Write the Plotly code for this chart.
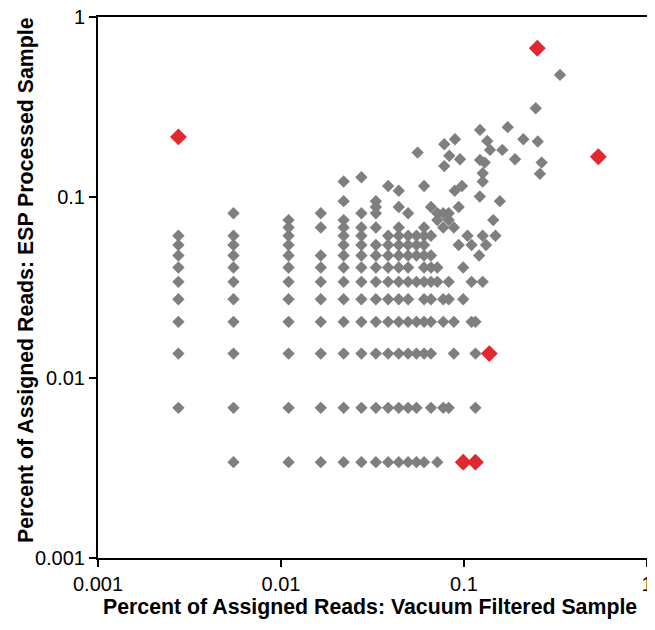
import plotly.graph_objects as go

# ---- data (percent of assigned reads) ----
gray_x = [
    # y = 0.0034
    0.0055, 0.011, 0.0165, 0.022, 0.0275, 0.033, 0.0385, 0.044, 0.0495, 0.055, 0.0605, 0.0715,
    # y = 0.0068
    0.00275, 0.0055, 0.011, 0.0165, 0.022, 0.0275, 0.033, 0.0385, 0.044, 0.0495, 0.055, 0.066, 0.077, 0.0825, 0.1155,
    # y = 0.0136
    0.00275, 0.0055, 0.011, 0.0165, 0.022, 0.0275, 0.033, 0.0385, 0.044, 0.0495, 0.055, 0.0605, 0.066, 0.088, 0.1155,
    # y = 0.0204
    0.00275, 0.0055, 0.011, 0.0165, 0.022, 0.0275, 0.033, 0.0385, 0.044, 0.0495, 0.055, 0.0605, 0.066, 0.077, 0.088, 0.11, 0.1155,
    # y = 0.0272
    0.00275, 0.0055, 0.011, 0.0165, 0.022, 0.0275, 0.033, 0.0385, 0.044, 0.0495, 0.0605, 0.066, 0.077, 0.0825, 0.099,
    # y = 0.034
    0.00275, 0.0055, 0.011, 0.0165, 0.022, 0.0275, 0.033, 0.0385, 0.044, 0.0495, 0.055, 0.0605, 0.066, 0.0715, 0.0825, 0.11, 0.1265,
    # y = 0.0408
    0.00275, 0.0055, 0.011, 0.0165, 0.022, 0.0275, 0.033, 0.0385, 0.044, 0.0495, 0.0605, 0.066, 0.0715, 0.099,
    # y = 0.0476
    0.00275, 0.0055, 0.011, 0.0165, 0.022, 0.0275, 0.033, 0.0385, 0.044, 0.0495, 0.055, 0.0605, 0.066, 0.121,
    # y = 0.0544
    0.00275, 0.0055, 0.011, 0.022, 0.0275, 0.033, 0.0385, 0.044, 0.0495, 0.055, 0.0605, 0.0935, 0.11, 0.132,
    # y = 0.0612
    0.00275, 0.0055, 0.011, 0.022, 0.0275, 0.0385, 0.044, 0.0495, 0.055, 0.0605, 0.066, 0.1045, 0.1265, 0.1485,
    # y = 0.068
    0.011, 0.0165, 0.022, 0.0275, 0.033, 0.044, 0.0605, 0.077, 0.088,
    # y = 0.0748
    0.011, 0.022, 0.0715, 0.0825, 0.1445,
    # y = 0.0816
    0.0055, 0.0165, 0.0275, 0.033, 0.0495, 0.0715, 0.077, 0.0825,
    # y = 0.0884
    0.033, 0.044, 0.066, 0.0935,
    # y = 0.0952
    0.022, 0.033, 0.157,
    # y = 0.101 .. 0.136
    0.122, 0.044, 0.089, 0.0385, 0.0605, 0.0975, 0.022, 0.1265, 0.0275, 0.1265,
    # upper scattered points
    0.0558, 0.078, 0.0893, 0.0831, 0.0951, 0.078, 0.1223, 0.134, 0.1387, 0.162,
    0.1223, 0.1298, 0.1734, 0.211, 0.253, 0.190, 0.2656, 0.26, 0.2466, 0.3346,
]
gray_y = (
    [0.0034] * 12 + [0.0068] * 15 + [0.0136] * 15 + [0.0204] * 17 + [0.0272] * 15
    + [0.034] * 17 + [0.0408] * 14 + [0.0476] * 14 + [0.0544] * 14 + [0.0612] * 14
    + [0.068] * 9 + [0.0748] * 5 + [0.0816] * 8 + [0.0884] * 4 + [0.0952] * 3
    + [0.101, 0.1088, 0.1088, 0.1156, 0.1156, 0.1156, 0.1224, 0.1224, 0.1292, 0.136]
    + [0.177, 0.197, 0.21, 0.170, 0.1626, 0.149, 0.2366, 0.2056, 0.1832, 0.1832,
       0.161, 0.1558, 0.245, 0.21, 0.204, 0.1626, 0.1558, 0.135, 0.312, 0.4775]
)

red_x = [0.00275, 0.2515, 0.542, 0.1375, 0.099, 0.1155]
red_y = [0.2163, 0.671, 0.168, 0.0136, 0.0034, 0.0034]

tick_vals = [0.001, 0.01, 0.1, 1]
tick_text = ["0.001", "0.01", "0.1", "1"]

x_title = "Percent of Assigned Reads: Vacuum Filtered Sample"
y_title = "Percent of Assigned Reads: ESP Processed Sample"

FONT = "Liberation Sans, Arial, Helvetica, sans-serif"

fig = go.Figure()
fig.add_trace(go.Scatter(
    x=gray_x, y=gray_y, mode="markers", showlegend=False,
    marker=dict(symbol="diamond", size=9.5, color="#7F7F7F", line=dict(width=0)),
))
fig.add_trace(go.Scatter(
    x=red_x, y=red_y, mode="markers", showlegend=False,
    marker=dict(symbol="diamond", size=13, color="#E0282E", line=dict(width=0)),
))

axis = dict(
    type="log", range=[-3, 0], tickvals=tick_vals, ticktext=tick_text,
    ticks="outside", ticklen=7, tickwidth=2, tickcolor="black",
    showline=True, linecolor="black", linewidth=2, mirror=True,
    showgrid=False, zeroline=False, automargin=False,
    ticklabeloverflow="allow",
    tickfont=dict(family=FONT, size=20, color="black"),
)

# the page body adds an 8px offset, so the figure is 8px smaller on each side
fig.update_layout(
    width=647, height=622,
    margin=dict(l=90, r=8, t=9, b=72, autoexpand=False),
    plot_bgcolor="white", paper_bgcolor="white",
    xaxis=axis, yaxis=axis,
    annotations=[
        dict(text="<b>%s</b>" % x_title, xref="paper", yref="paper",
             x=0.495, y=-0.0906, xanchor="center", yanchor="middle",
             showarrow=False, font=dict(family=FONT, size=21.3, color="black")),
        dict(text="<b>%s</b>" % y_title, xref="paper", yref="paper",
             x=-0.131, y=0.514, xanchor="center", yanchor="middle", textangle=-90,
             showarrow=False, font=dict(family=FONT, size=21.3, color="black")),
    ],
)

fig.write_html("out.html")
